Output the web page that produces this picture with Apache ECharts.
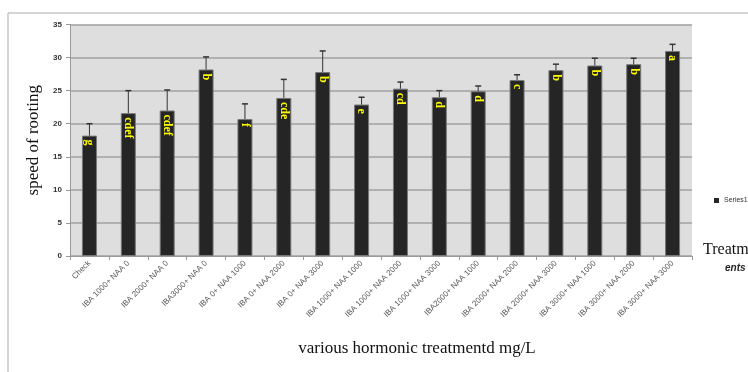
<!DOCTYPE html>
<html><head><meta charset="utf-8">
<script src="https://cdn.jsdelivr.net/npm/echarts@6/dist/echarts.min.js"></script>
<style>html,body{margin:0;padding:0;background:#fff}#c{width:748px;height:372px}</style>
</head><body><div id="c"></div>
<script>
const categories = ["Check","IBA 1000+ NAA 0","IBA 2000+ NAA 0","IBA3000+ NAA 0","IBA 0+ NAA 1000","IBA 0+ NAA 2000","IBA 0+ NAA 3000","IBA 1000+ NAA 1000","IBA 1000+ NAA 2000","IBA 1000+ NAA 3000","IBA2000+ NAA 1000","IBA 2000+ NAA 2000","IBA 2000+ NAA 3000","IBA 3000+ NAA 1000","IBA 3000+ NAA 2000","IBA 3000+ NAA 3000"];
const means = [18.2,21.6,22.0,28.2,20.7,23.9,27.8,22.9,25.3,24.0,24.9,26.6,28.1,28.8,29.0,31.0];
const errTops = [20.0,25.0,25.1,30.1,23.0,26.7,31.0,24.0,26.3,25.0,25.7,27.4,29.0,29.9,29.9,32.0];
const letters = ["g","cdef","cdef","b","f","cde","b","e","cd","d","d","c","b","b","b","a"];
const yTicks = [0,5,10,15,20,25,30,35];

const chart = echarts.init(document.getElementById('c'));
chart.setOption({
  animation:false,
  backgroundColor:'#fff',
  grid:{left:70,right:56,top:24.5,bottom:116,show:true,backgroundColor:'#dedede',borderWidth:0},
  legend:{data:['Series1'],left:709,top:192,itemWidth:5,itemHeight:5,icon:'rect',itemGap:3,
    itemStyle:{borderWidth:0,color:'#252525'},
    textStyle:{fontSize:7,color:'#333',fontFamily:'Liberation Sans'}},
  xAxis:{type:'category',data:categories,
    axisLine:{lineStyle:{color:'#999'}},
    axisTick:{show:true,length:4,lineStyle:{color:'#999'}},
    axisLabel:{interval:0,rotate:45,fontSize:8,color:'#555',fontFamily:'Liberation Sans',margin:6}},
  yAxis:{type:'value',min:yTicks[0],max:yTicks[yTicks.length-1],interval:5,
    axisLine:{show:true,lineStyle:{color:'#999'}},
    axisTick:{show:true,length:4,lineStyle:{color:'#999'}},
    splitLine:{lineStyle:{color:'#a0a0a0',width:1.5}},
    axisLabel:{fontSize:8,color:'#333',fontWeight:'bold',fontFamily:'Liberation Sans',margin:8},
    name:'speed of rooting',nameLocation:'middle',nameGap:28,
    nameTextStyle:{fontFamily:'Liberation Serif',fontSize:17,color:'#111'}},
  series:[
    {name:'Series1',type:'bar',data:means,barWidth:15,
     itemStyle:{color:'#252525',borderColor:'#777',borderWidth:1},
     label:{show:true,position:'insideTop',distance:4,rotate:-90,align:'left',verticalAlign:'middle',
       formatter:p=>letters[p.dataIndex],color:'#ffff00',fontWeight:'bold',fontSize:12,fontFamily:'Liberation Serif'},
     z:2},
    {name:'err',type:'custom',z:3,
     data:means.map((m,i)=>[i,m,errTops[i]]),
     renderItem:function(params,api){
       const p0=api.coord([api.value(0),api.value(1)]);
       const p1=api.coord([api.value(0),api.value(2)]);
       const st={stroke:'#333',lineWidth:1};
       return {type:'group',children:[
         {type:'line',shape:{x1:p0[0],y1:p0[1],x2:p1[0],y2:p1[1]},style:st},
         {type:'line',shape:{x1:p1[0]-3,y1:p1[1],x2:p1[0]+3,y2:p1[1]},style:{stroke:'#333',lineWidth:1.5}}
       ]};
     }}
  ],
  graphic:[
    {type:'line',shape:{x1:8,y1:13,x2:748,y2:13},style:{stroke:'#aaa',lineWidth:1}},
    {type:'line',shape:{x1:8,y1:13,x2:8,y2:372},style:{stroke:'#aaa',lineWidth:1}},
    {type:'text',x:417,y:349,style:{text:'various hormonic treatmentd mg/L',font:'17px "Liberation Serif"',fill:'#111',align:'center',verticalAlign:'middle'}},
    {type:'text',x:703,y:250,style:{text:'Treatm',font:'16px "Liberation Serif"',fill:'#111',verticalAlign:'middle'}},
    {type:'text',x:725,y:268,style:{text:'ents',font:'italic bold 10px "Liberation Sans"',fill:'#222',verticalAlign:'middle'}}
  ]
});
</script></body></html>
